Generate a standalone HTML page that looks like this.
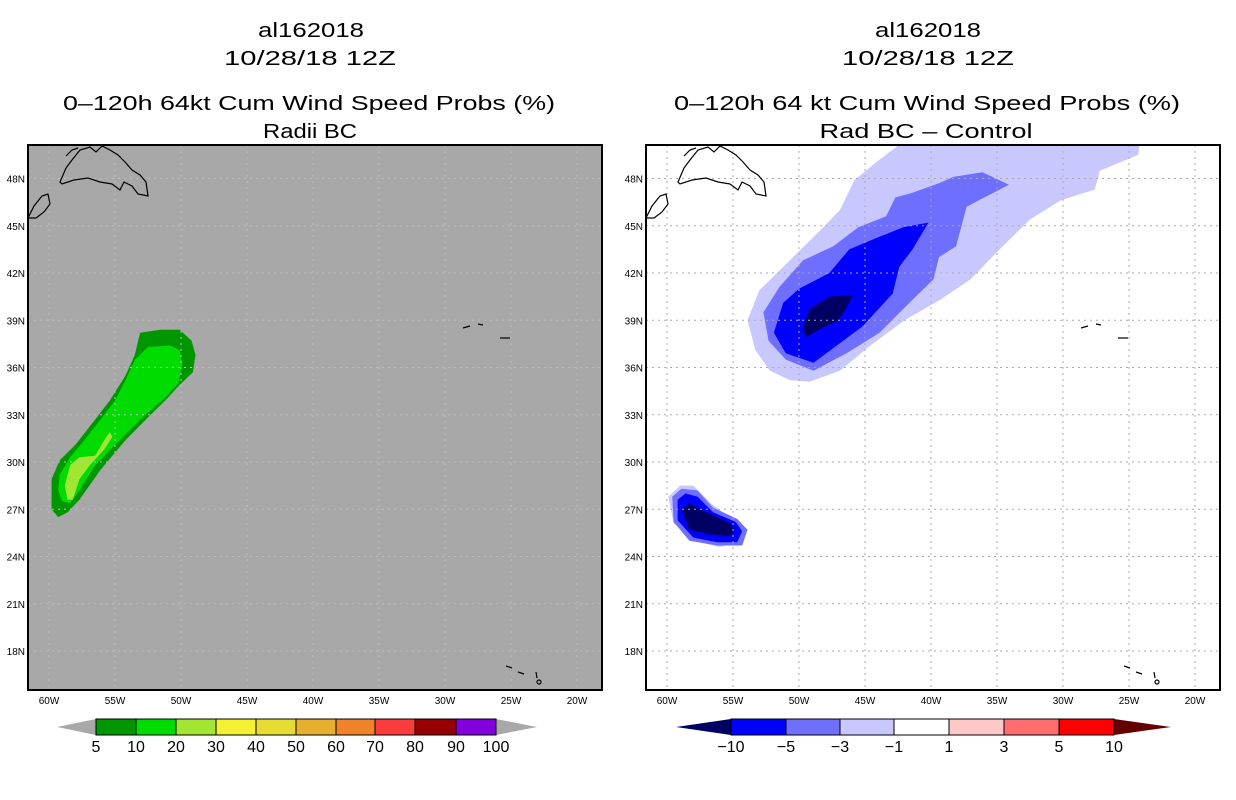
<!DOCTYPE html>
<html><head><meta charset="utf-8">
<style>
body{margin:0;background:#fff;}
svg{display:block;font-family:"Liberation Sans",sans-serif;}
</style></head>
<body>
<svg id="fig" width="1236" height="800" xmlns="http://www.w3.org/2000/svg">
<g font-size="20" text-anchor="middle" fill="#000">
<text x="311" y="37" textLength="106" lengthAdjust="spacingAndGlyphs">al162018</text><text x="310" y="65" textLength="172" lengthAdjust="spacingAndGlyphs">10/28/18 12Z</text>
<text x="309" y="110" textLength="492" lengthAdjust="spacingAndGlyphs">0–120h 64kt Cum Wind Speed Probs (%)</text><text x="310" y="138" textLength="94" lengthAdjust="spacingAndGlyphs">Radii BC</text></g>
<g font-size="20" text-anchor="middle" fill="#000">
<text x="928" y="37" textLength="106" lengthAdjust="spacingAndGlyphs">al162018</text><text x="928" y="65" textLength="172" lengthAdjust="spacingAndGlyphs">10/28/18 12Z</text>
<text x="927" y="110" textLength="506" lengthAdjust="spacingAndGlyphs">0–120h 64 kt Cum Wind Speed Probs (%)</text><text x="926" y="138" textLength="213" lengthAdjust="spacingAndGlyphs">Rad BC – Control</text></g>
<g id="left"></g>
<g id="right"></g>
<g id="cbars"></g>
</svg>
<script>
const NS="http://www.w3.org/2000/svg";
const latTicks=[18,21,24,27,30,33,36,39,42,45,48];
const lonTicks=[60,55,50,45,40,35,30,25,20];
const leftLevels=["#009600","#00dc00","#a0e632"];
const left5=[[-53.1,38.2],[-51.6,38.4],[-50.1,38.4],[-49.2,37.7],[-48.9,36.8],[-49.1,35.7],[-50.1,34.9],[-51.2,33.9],[-52.3,33.0],[-54.2,31.4],[-56.1,29.5],[-57.7,27.6],[-58.6,26.8],[-59.3,26.5],[-59.8,27.0],[-59.8,28.9],[-59.2,30.1],[-58.0,31.1],[-56.5,32.7],[-55.4,33.9],[-54.2,35.5],[-53.5,36.8]];
const left10=[[-52.5,37.3],[-50.8,37.4],[-50.1,37.1],[-49.9,36.2],[-50.2,35.0],[-51.2,34.1],[-53.1,32.7],[-55.0,31.1],[-56.5,29.8],[-57.7,28.2],[-58.4,27.4],[-59.0,27.5],[-59.3,28.2],[-59.2,29.2],[-58.4,30.3],[-57.3,31.4],[-56.1,32.7],[-55.0,33.9],[-54.2,35.2],[-53.5,36.5]];
const left20=[[-55.4,31.9],[-55.2,31.6],[-55.8,30.8],[-56.9,29.8],[-57.7,28.9],[-58.2,27.6],[-58.6,27.6],[-58.8,28.5],[-58.4,29.8],[-57.7,30.3],[-56.5,30.4],[-55.8,31.4]];
const rightLevels=["#c8c8ff","#6e6eff","#0000ff","#000064"];
const rN1=[[-53.9,39.0],[-53.0,40.9],[-50.7,42.8],[-48.4,44.7],[-46.9,46.0],[-45.8,47.9],[-43.9,49.2],[-42.3,50.2],[-24.2,50.2],[-24.3,49.5],[-27.2,48.5],[-27.6,47.3],[-30.2,46.6],[-32.5,45.4],[-34.8,43.5],[-37.0,41.6],[-39.3,40.3],[-42.0,39.0],[-44.6,37.4],[-46.9,35.8],[-49.2,35.1],[-50.7,35.2],[-52.2,35.8],[-53.3,37.1]];
const rN3=[[-52.7,39.5],[-51.5,41.1],[-49.7,42.8],[-47.4,43.7],[-45.5,44.9],[-43.4,45.6],[-42.7,46.8],[-41.4,47.1],[-39.4,47.7],[-38.3,48.1],[-36.1,48.4],[-34.1,47.6],[-36.4,46.6],[-37.3,46.2],[-38.1,43.7],[-39.4,43.0],[-39.8,41.6],[-41.4,40.3],[-43.9,38.2],[-46.4,36.9],[-48.9,35.8],[-51.0,36.5],[-52.3,37.7]];
const rN5=[[-51.9,38.2],[-51.2,40.1],[-50.0,41.0],[-47.7,42.0],[-46.2,43.5],[-43.9,44.3],[-42.1,44.9],[-40.2,45.2],[-41.4,43.5],[-42.4,42.4],[-42.9,40.7],[-45.2,38.6],[-48.9,36.3],[-51.0,36.9]];
const rN10=[[-49.7,38.6],[-49.2,39.7],[-47.7,40.5],[-45.9,40.6],[-46.4,39.8],[-47.0,39.0],[-48.5,38.4],[-49.5,37.9]];
const sN1=[[-59.9,27.8],[-59.0,28.5],[-58.0,28.5],[-56.7,27.4],[-55.0,26.3],[-54.1,25.6],[-54.5,24.9],[-56.0,24.6],[-58.0,25.0],[-59.5,26.1]];
const sN3=[[-59.6,27.8],[-58.9,28.3],[-57.7,28.2],[-56.5,27.1],[-54.7,26.4],[-53.9,25.7],[-54.3,24.7],[-56.2,24.7],[-58.3,25.0],[-59.5,26.2]];
const sN5=[[-59.2,27.6],[-58.6,28.0],[-57.7,27.8],[-56.5,26.8],[-54.8,26.2],[-54.3,25.6],[-54.7,24.9],[-56.2,24.9],[-58.0,25.2],[-59.2,26.3]];
const sN10=[[-58.9,27.0],[-58.3,27.4],[-57.0,26.8],[-55.2,26.1],[-54.9,25.7],[-55.2,25.3],[-56.7,25.4],[-58.3,25.7]];
const leftCbLabels=["5","10","20","30","40","50","60","70","80","90","100"];
const leftCbColors=["#009600","#00dc00","#a0e632","#f5f032","#e6dc32","#e6af2d","#f08228","#fa3c3c","#960000","#8200dc"];
const rightCbLabels=["−10","−5","−3","−1","1","3","5","10"];
const rightCbColors=["#0000ff","#6e6eff","#c8c8ff","#ffffff","#ffc8c8","#ff6e6e","#ff0000"];

function el(t,a,p){const e=document.createElementNS(NS,t);for(const k in a)e.setAttribute(k,a[k]);p.appendChild(e);return e;}
function panel(gid,x0,bg,fills,polys,gridCol){
  const g=document.getElementById(gid);
  const W=574,H=545,y0=145;
  const X=lon=>x0+21+(lon+60)*13.2;
  const Y=lat=>462-(lat-30)*15.75;
  const clipId=gid+"clip";
  const cp=el("clipPath",{id:clipId},g);el("rect",{x:x0,y:y0,width:W,height:H},cp);
  const bgR=el("rect",{x:x0,y:y0,width:W,height:H,fill:bg},g);
  
  
  const inner=el("g",{"clip-path":"url(#"+clipId+")"},g);
  polys.forEach((p,i)=>{
    const pg=el("polygon",{points:p.map(q=>X(q[0]).toFixed(1)+","+Y(q[1]).toFixed(1)).join(" "),fill:fills[i]},inner);
    
    
  });
  latTicks.forEach(l=>{
    const ln=el("line",{x1:x0,x2:x0+W,y1:Y(l),y2:Y(l),stroke:gridCol,"stroke-dasharray":"2,4"},inner);
    
    
    const t=el("text",{x:x0-3,y:Y(l)+4,"font-size":10,"text-anchor":"end"},g);t.textContent=l+"N";
    
    
  });
  lonTicks.forEach(l=>{
    const ln=el("line",{x1:X(-l),x2:X(-l),y1:y0,y2:y0+H,stroke:gridCol,"stroke-dasharray":"2,4"},inner);
    
    
    const t=el("text",{x:X(-l),y:704,"font-size":10,"text-anchor":"middle"},g);t.textContent=l+"W";
    
    
  });
  const cs=el("g",{fill:"none",stroke:"#000","stroke-width":1.2},inner);
  
  
  const o=x0-28;
  const coasts=["M60,182 L66,168 L72,160 L80,150 L90,147 L96,152 L102,146 L110,150 L118,155 L125,162 L132,170 L140,175 L146,182 L148,196 L138,194 L132,186 L124,182 L120,190 L112,184 L100,182 L88,178 L74,180 L62,184 Z",
    "M66,156 L72,150 L78,148","M28,218 L34,206 L42,196 L48,194 L50,204 L44,212 L36,218 Z",
    "M463,328 L470,326","M478,324 L483,325","M500,338 L510,338","M506,666 L512,668","M518,672 L524,674","M536,672 L537,678","M537,682 a2,2 0 1,0 4,0 a2,2 0 1,0 -4,0"];
  coasts.forEach(d=>el("path",{d:d,transform:"translate("+o+",0)"},cs));
  const fr=el("rect",{x:x0,y:y0,width:W,height:H,fill:"none",stroke:"#000","stroke-width":2},g);
  
  
}
panel("left",28,"#a8a8a8",leftLevels,[left5,left10,left20],"#bdbdbd");
panel("right",646,"#ffffff",[rightLevels[0],rightLevels[1],rightLevels[2],rightLevels[3],rightLevels[0],rightLevels[1],rightLevels[2],rightLevels[3]],[rN1,rN3,rN5,rN10,sN1,sN3,sN5,sN10],"#aaaaaa");

function cbar(edges,tipL,tipR,colors,labels,lc,rc){
  const g=document.getElementById("cbars");
  const y1=719,y2=735,ym=727;
  const la=el("polygon",{points:`${tipL},${ym} ${edges[0]},${y1} ${edges[0]},${y2}`,fill:lc},g);
  
  
  const ra=el("polygon",{points:`${tipR},${ym} ${edges[edges.length-1]},${y1} ${edges[edges.length-1]},${y2}`,fill:rc},g);
  
  
  colors.forEach((c,i)=>{
    const r=el("rect",{x:edges[i],y:y1,width:edges[i+1]-edges[i],height:y2-y1,fill:c,stroke:"#000","stroke-width":1},g);
    
    
  });
  labels.forEach((l,i)=>{
    const t=el("text",{x:edges[i],y:752,"font-size":16,"text-anchor":"middle"},g);t.textContent=l;
    
    
  });
}
cbar([96,136,176,216,256,296,336,375,415,456,496],57,537,leftCbColors,leftCbLabels,"#a8a8a8","#a8a8a8");
cbar([731,786,840,894,949,1004,1059,1114],676,1171,rightCbColors,rightCbLabels,"#000064","#640000");
</script>
</body></html>
